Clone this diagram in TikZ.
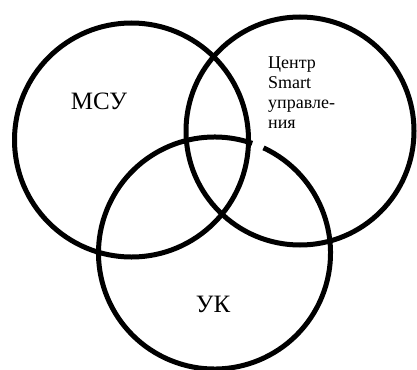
\documentclass[tikz,border=0pt]{standalone}
\usepackage{fontspec}
\setmainfont{Liberation Serif}
\begin{document}
\begin{tikzpicture}[x=1pt,y=-1pt,
  ring/.style={line width=5pt, draw=black},
  biglabel/.style={font=\fontsize{25}{28}\selectfont, inner sep=0pt},
  smalllabel/.style={font=\fontsize{18}{20}\selectfont, inner sep=0pt, align=left, anchor=north west}]
\useasboundingbox (0,0) rectangle (417,369);
\fill[white] (0,0) rectangle (417,369);
\coordinate (cL) at (131.5,140);
\coordinate (cR) at (300,131);
\coordinate (cB) at (214.5,253);
\draw[ring] (cL) circle[radius=117];
\draw[ring] (cR) circle[radius=114];
% bottom circle drawn with a small break at upper right (as in the reference)
\draw[ring] ([shift={(-65:116)}]cB) arc[start angle=-65, end angle=289, radius=116];
\node[biglabel] (msu) at (99,101) {МСУ};
\node[biglabel] (uk) at (213,304) {УК};
\node[smalllabel] (ctr) at (268,57) {Центр\\Smart\\управле-\\ния};
\end{tikzpicture}
\end{document}
